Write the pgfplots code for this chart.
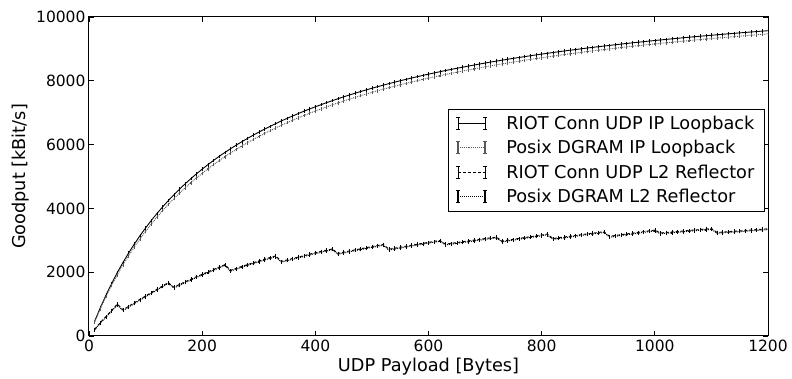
\documentclass[border=0pt]{standalone}
\usepackage{fontspec}
\setmainfont{DejaVu Sans}
\usepackage{pgfplots}
\usepackage{pgfplotstable}
\pgfplotsset{compat=1.18}

\pgfplotsset{
  errleg/.style={legend image code/.code={
    \draw[##1] (0pt,0pt) -- (27pt,0pt);
    \draw[##1, solid, line width=#1] (0pt,-6pt) -- (0pt,6pt) (27pt,-6pt) -- (27pt,6pt);
    \draw[##1, solid, line width=0.6pt] (-2pt,-6pt) -- (2pt,-6pt) (-2pt,6pt) -- (2pt,6pt) (25pt,-6pt) -- (29pt,-6pt) (25pt,6pt) -- (29pt,6pt);
  }},
}

% x  riot  posix  (IP loopback)
\pgfplotstableread{
x riot posix
10 461 443
20 887 852
30 1281 1232
40 1646 1586
50 1987 1916
60 2304 2225
70 2601 2514
80 2880 2786
90 3141 3041
100 3387 3282
110 3619 3509
120 3838 3724
130 4045 3928
140 4241 4121
150 4427 4305
160 4604 4479
170 4772 4645
180 4932 4804
190 5085 4955
200 5230 5099
210 5369 5238
220 5502 5370
230 5630 5497
240 5752 5618
250 5869 5735
260 5981 5847
270 6089 5954
280 6193 6058
290 6293 6158
300 6389 6254
310 6482 6347
320 6571 6436
330 6657 6522
340 6741 6606
350 6821 6686
360 6899 6764
370 6974 6840
380 7047 6913
390 7117 6984
400 7185 7052
410 7251 7119
420 7315 7183
430 7378 7246
440 7438 7307
450 7497 7366
460 7554 7423
470 7609 7479
480 7663 7533
490 7715 7586
500 7766 7637
510 7815 7687
520 7864 7736
530 7911 7783
540 7956 7830
550 8001 7875
560 8044 7919
570 8087 7961
580 8128 8003
590 8169 8044
600 8208 8084
610 8246 8123
620 8284 8161
630 8321 8198
640 8357 8235
650 8392 8270
660 8426 8305
670 8460 8339
680 8492 8372
690 8524 8405
700 8556 8437
710 8587 8468
720 8617 8499
730 8646 8529
740 8675 8558
750 8704 8587
760 8731 8615
770 8758 8643
780 8785 8670
790 8811 8696
800 8837 8722
810 8862 8748
820 8887 8773
830 8911 8798
840 8935 8822
850 8958 8845
860 8981 8869
870 9003 8892
880 9026 8914
890 9047 8936
900 9069 8958
910 9089 8979
920 9110 9000
930 9130 9021
940 9150 9041
950 9170 9061
960 9189 9081
970 9208 9100
980 9226 9119
990 9245 9138
1000 9263 9156
1010 9280 9174
1020 9298 9192
1030 9315 9209
1040 9332 9226
1050 9349 9243
1060 9365 9260
1070 9381 9277
1080 9397 9293
1090 9413 9309
1100 9428 9324
1110 9443 9340
1120 9458 9355
1130 9473 9370
1140 9487 9385
1150 9502 9400
1160 9516 9414
1170 9530 9428
1180 9543 9442
1190 9557 9456
1200 9570 9470
}\loopdata

% x  riot  posix  (L2 reflector)
\pgfplotstableread{
x riot posix
10 210 195
20 420 400
30 610 590
40 800 780
50 1000 975
60 820 795
70 930 905
80 1040 1015
90 1150 1125
100 1255 1230
110 1360 1335
120 1465 1440
130 1570 1545
140 1675 1650
150 1530 1505
160 1615 1590
170 1700 1675
180 1780 1755
190 1860 1835
200 1935 1910
210 2010 1985
220 2085 2060
230 2160 2135
240 2235 2210
250 2060 2035
260 2120 2095
270 2180 2155
280 2240 2215
290 2295 2270
300 2350 2325
310 2405 2380
320 2460 2435
330 2510 2485
340 2340 2315
350 2385 2360
360 2430 2405
370 2475 2450
380 2520 2495
390 2565 2540
400 2610 2585
410 2650 2625
420 2690 2665
430 2730 2705
440 2590 2565
450 2627 2602
460 2663 2638
470 2699 2674
480 2734 2709
490 2769 2744
500 2803 2778
510 2837 2812
520 2870 2845
530 2720 2695
540 2752 2727
550 2783 2758
560 2814 2789
570 2845 2820
580 2876 2851
590 2906 2881
600 2936 2911
610 2966 2941
620 2995 2970
630 2880 2855
640 2905 2880
650 2930 2905
660 2955 2930
670 2980 2955
680 3005 2980
690 3030 3005
700 3055 3030
710 3078 3053
720 3100 3075
730 2975 2950
740 3003 2978
750 3031 3006
760 3059 3034
770 3087 3062
780 3114 3089
790 3141 3116
800 3168 3143
810 3195 3170
820 3055 3030
830 3080 3055
840 3105 3080
850 3129 3104
860 3153 3128
870 3177 3152
880 3200 3175
890 3223 3198
900 3246 3221
910 3268 3243
920 3125 3100
930 3150 3125
940 3175 3150
950 3200 3175
960 3224 3199
970 3248 3223
980 3272 3247
990 3296 3271
1000 3320 3295
1010 3230 3205
1020 3246 3221
1030 3262 3237
1040 3278 3253
1050 3293 3268
1060 3308 3283
1070 3323 3298
1080 3338 3313
1090 3354 3329
1100 3370 3345
1110 3245 3220
1120 3258 3233
1130 3271 3246
1140 3284 3259
1150 3296 3271
1160 3309 3284
1170 3322 3297
1180 3335 3310
1190 3348 3323
1200 3360 3335
}\ltwodata

\begin{document}
\begin{tikzpicture}
\begin{axis}[
  scale only axis, width=679pt, height=319pt,
  xmin=0, xmax=1200, ymin=0, ymax=10000,
  xtick={0,200,...,1200}, ytick={0,2000,...,10000},
  tick align=inside, major tick length=5pt,
  scaled ticks=false,
  /pgf/number format/assume math mode=true,
  /pgf/number format/set thousands separator={},
  tick label style={font=\fontsize{15.5}{18}\selectfont},
  label style={font=\fontsize{17.7}{21}\selectfont},
  xlabel={UDP Payload [Bytes]},
  ylabel={Goodput [kBit/s]},
  axis line style={line width=1pt},
  every tick/.style={black, line width=0.8pt},
  legend style={at={(rel axis cs:0.995,0.552)}, anchor=east,
    font=\fontsize{17.7}{21}\selectfont, draw=black, row sep=5.5pt,
    inner xsep=8pt, inner ysep=5pt},
  legend cell align=left,
  error bars/y dir=both, error bars/y fixed=15,
  error bars/error mark options={mark size=1.3pt, line width=0.5pt},
]
\coordinate (SW) at (rel axis cs:0,0);
\coordinate (NE) at (rel axis cs:1,1);
\addplot[black, solid, line width=0.9pt, errleg=0.6pt,
  error bars/error bar style={solid, line width=0.5pt}]
  table[x=x, y=riot] {\loopdata};
\addlegendentry{\hspace{17pt}RIOT Conn UDP IP Loopback}
\addplot[black!65, densely dotted, line width=0.9pt, errleg=1.3pt,
  error bars/error bar style={solid, line width=0.7pt}]
  table[x=x, y=posix] {\loopdata};
\addlegendentry{\hspace{17pt}Posix DGRAM IP Loopback}
\addplot[black, dash pattern=on 3pt off 2pt, line width=0.9pt, errleg=0.6pt,
  error bars/error bar style={solid, line width=0.5pt}]
  table[x=x, y=riot] {\ltwodata};
\addlegendentry{\hspace{17pt}RIOT Conn UDP L2 Reflector}
\addplot[black, densely dotted, line width=1pt, errleg=1.3pt,
  error bars/error bar style={solid, line width=0.7pt}]
  table[x=x, y=posix] {\ltwodata};
\addlegendentry{\hspace{17pt}Posix DGRAM L2 Reflector}
\end{axis}
\pgfresetboundingbox
\path ([shift={(-89pt,-43pt)}]SW) rectangle ([shift={(24pt,17pt)}]NE);
\end{tikzpicture}
\end{document}
